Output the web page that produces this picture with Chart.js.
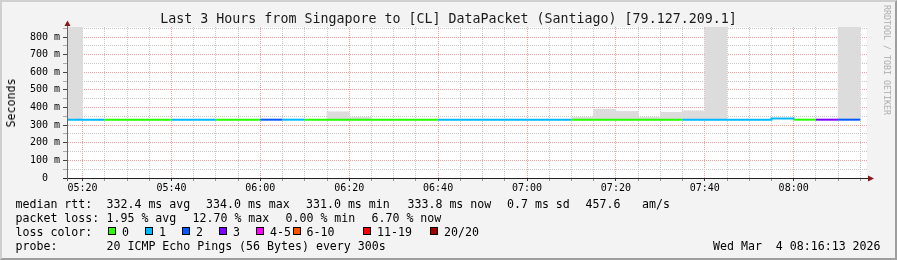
<!DOCTYPE html>
<html>
<head>
<meta charset="utf-8">
<script src="https://cdn.jsdelivr.net/npm/chart.js@4.4.1/dist/chart.umd.min.js"></script>
<style>
  body { margin: 0; background: #f3f3f3; }
  #wrap { position: relative; width: 897px; height: 260px; background: #f3f3f3; overflow: hidden;
          font-family: 'DejaVu Sans Mono', monospace; color: #000; }
  #chart { position: absolute; left: 0; top: 0; }
  .txt { position: absolute; white-space: pre; font-size: 11.6px; line-height: 14px; }
  #title { position: absolute; left: 0; top: 11px; width: 897px; text-align: center; white-space: pre;
           font-size: 13.3px; line-height: 16px; color: #1a1a1a; }
  #ylabel { position: absolute; left: 11px; top: 103px; white-space: pre; font-size: 11.6px;
            transform: translate(-50%, -50%) rotate(-90deg); }
  #mark { position: absolute; left: 887px; top: 60px; white-space: pre; font-size: 8.3px; color: #acacac;
          transform: translate(-50%, -50%) rotate(90deg); }
  .box { position: absolute; top: 227px; width: 6px; height: 6px; border: 1px solid #000; }
  #frame { position: absolute; left: 0; top: 0; width: 897px; height: 260px; box-sizing: border-box;
           border: 2px solid; border-color: #cfcfcf #9e9e9e #9e9e9e #cfcfcf; pointer-events: none; }
</style>
</head>
<body>
<div id="wrap">
  <canvas id="chart" width="897" height="260"></canvas>
  <div id="title">Last 3 Hours from Singapore to [CL] DataPacket (Santiago) [79.127.209.1]</div>
  <div id="ylabel">Seconds</div>
  <div id="mark">RRDTOOL / TOBI OETIKER</div>
  <div id="legend"></div>
  <div id="frame"></div>
</div>
<script>
// 5 minute slots, start time of each
const SLOT_START = [
  '05:15', '05:20', '05:25', '05:30', '05:35', '05:40', '05:45', '05:50', '05:55',
  '06:00', '06:05', '06:10', '06:15', '06:20', '06:25', '06:30', '06:35', '06:40',
  '06:45', '06:50', '06:55', '07:00', '07:05', '07:10', '07:15', '07:20', '07:25',
  '07:30', '07:35', '07:40', '07:45', '07:50', '07:55', '08:00', '08:05', '08:10'
];
// median rtt in ms
const MEDIAN_MS = [
  331, 331, 331, 331, 331, 331, 331, 331, 331,
  331, 331, 331, 331, 331, 331, 331, 331, 331,
  331, 331, 331, 331, 331, 331, 331, 331, 331,
  331, 331, 331, 331, 331, 337, 331, 331, 331
];
// index into LOSS_COLORS
const LOSS_INDEX = [
  1, 1, 0, 0, 0, 1, 1, 0, 0,
  2, 1, 0, 0, 0, 0, 0, 0, 1,
  1, 1, 1, 1, 1, 0, 0, 0, 0,
  0, 1, 1, 1, 1, 1, 0, 3, 2
];
// smoke (min / max ping of the slot), null = nothing visible
const SMOKE_LOW = [
  331, null, null, null, null, null, null, null, null,
  null, null, null, 331, 331, null, null, null, null,
  null, null, null, null, null, 331, 331, 331, 331,
  331, 331, 331, null, null, null, null, null, 331
];
const SMOKE_HIGH = [
  860, null, null, null, null, null, null, null, null,
  null, null, null, 376, 344, null, null, null, null,
  null, null, null, null, null, 344, 390, 378, 344,
  373, 382, 860, null, null, null, null, null, 860
];

const LOSS_LABELS = ['0', '1', '2', '3', '4-5', '6-10', '11-19', '20/20'];
const LOSS_COLORS = ['#26ff00', '#00b8ff', '#0059ff', '#7e00ff', '#ff00ff', '#ff5500', '#ff0000', '#a10000'];

const X_START = '05:16:30';
const X_END = '08:16:30';
const X_TICK_LABELS = ['05:20', '05:40', '06:00', '06:20', '06:40', '07:00', '07:20', '07:40', '08:00'];
const Y_MAX = 857;
const Y_TICK_VALUES = [0, 100, 200, 300, 400, 500, 600, 700, 800];
const Y_TICK_LABELS = ['0  ', '100 m', '200 m', '300 m', '400 m', '500 m', '600 m', '700 m', '800 m'];

const RTT_STATS = ['332.4 ms avg', '334.0 ms max', '331.0 ms min', '333.8 ms now', '0.7 ms sd', '457.6', 'am/s'];
const LOSS_STATS = ['1.95 % avg', '12.70 % max', '0.00 % min', '6.70 % now'];
const PROBE = '20 ICMP Echo Pings (56 Bytes) every 300s';
const STAMP = 'Wed Mar  4 08:16:13 2026';

// legend layout (px)
const RTT_X = [106.5, 206, 306, 407.5, 507, 585.5, 642];
const LOSS_X = [106.5, 192.5, 285.5, 371.5];
const BOX_X = [108, 145, 182, 219, 256, 292.5, 363, 430];
const ROW_TOP = [197, 211, 225, 239];

const GRID = '#c8c8c8';
const MGRID = 'rgba(232, 80, 80, 0.55)';
const ARROW = '#861a1a';

function toMin(t) {
  const p = t.split(':').map(Number);
  return p[0] * 60 + p[1] + (p[2] || 0) / 60;
}

const xMin = toMin(X_START);
const xMax = toMin(X_END);
const slotX = SLOT_START.map(toMin);
const xMajor = X_TICK_LABELS.map(toMin);

const xTicks = [];
for (let m = Math.ceil(xMin / 5) * 5; m <= xMax; m += 5) xTicks.push(m);
const yTicks = [];
for (let v = 0; v <= Y_MAX; v += 50) yTicks.push(v);

const medianPoints = slotX.map((x, i) => ({ x, y: MEDIAN_MS[i] }));
medianPoints.push({ x: slotX[slotX.length - 1] + 5, y: MEDIAN_MS[MEDIAN_MS.length - 1] });

const smokeBars = [];
slotX.forEach((x, i) => {
  if (SMOKE_HIGH[i] != null) smokeBars.push({ x: x + 2.5, y: [SMOKE_LOW[i], SMOKE_HIGH[i]] });
});

const frame = {
  id: 'frame',
  beforeDraw(chart) {
    const { ctx, chartArea: a } = chart;
    ctx.save();
    ctx.fillStyle = '#ffffff';
    ctx.fillRect(a.left, a.top, a.right - a.left, a.bottom - a.top);
    ctx.restore();
  },
  afterDraw(chart) {
    const { ctx, chartArea: a } = chart;
    ctx.save();
    ctx.lineWidth = 1;
    ctx.strokeStyle = '#222';
    ctx.beginPath();
    ctx.moveTo(a.left - 4, a.bottom + 0.5);
    ctx.lineTo(a.right + 1, a.bottom + 0.5);
    ctx.stroke();
    ctx.strokeStyle = '#666';
    ctx.beginPath();
    ctx.moveTo(a.left + 0.5, a.bottom + 3);
    ctx.lineTo(a.left + 0.5, a.top - 2);
    ctx.stroke();
    ctx.fillStyle = ARROW;
    ctx.beginPath();
    ctx.moveTo(a.left + 0.5, a.top - 6.5);
    ctx.lineTo(a.left + 3.5, a.top - 1);
    ctx.lineTo(a.left - 2.5, a.top - 1);
    ctx.closePath();
    ctx.fill();
    ctx.beginPath();
    ctx.moveTo(a.right + 7, a.bottom + 0.5);
    ctx.lineTo(a.right + 1, a.bottom - 2.5);
    ctx.lineTo(a.right + 1, a.bottom + 3.5);
    ctx.closePath();
    ctx.fill();
    ctx.restore();
  }
};

const tickFont = { family: "'DejaVu Sans Mono', monospace", size: 10 };

new Chart(document.getElementById('chart'), {
  data: {
    datasets: [
      {
        type: 'line',
        label: 'median rtt',
        order: 0,
        data: medianPoints,
        borderColor: LOSS_COLORS[0],
        borderWidth: 2,
        pointRadius: 0,
        stepped: true,
        clip: 0,
        segment: { borderColor: c => LOSS_COLORS[LOSS_INDEX[c.p0DataIndex]] }
      },
      {
        type: 'bar',
        label: 'smoke',
        order: 1,
        data: smokeBars,
        backgroundColor: '#dcdcdc',
        borderWidth: 0,
        barPercentage: 1,
        categoryPercentage: 1,
        clip: 0
      }
    ]
  },
  options: {
    responsive: false,
    animation: false,
    devicePixelRatio: 1,
    layout: { padding: { left: 0, top: 27, right: 30, bottom: 0 } },
    plugins: { legend: { display: false }, tooltip: { enabled: false }, title: { display: false } },
    scales: {
      x: {
        type: 'linear',
        min: xMin,
        max: xMax,
        offset: false,
        afterFit: s => { s.height = 82; },
        afterBuildTicks: s => { s.ticks = xTicks.map(v => ({ value: v })); },
        ticks: {
          autoSkip: false,
          maxRotation: 0,
          padding: 1,
          color: '#000',
          font: tickFont,
          callback: v => {
            const i = xMajor.indexOf(v);
            return i >= 0 ? X_TICK_LABELS[i] : '';
          }
        },
        grid: {
          offset: false,
          color: c => (c.tick && xMajor.includes(c.tick.value) ? MGRID : GRID),
          tickColor: c => (c.tick && xMajor.includes(c.tick.value) ? '#333' : '#999'),
          tickLength: 3,
          lineWidth: 1
        },
        border: { color: '#222', dash: [1, 1] }
      },
      y: {
        type: 'linear',
        min: 0,
        max: Y_MAX,
        afterFit: s => { s.width = 67; },
        afterBuildTicks: s => { s.ticks = yTicks.map(v => ({ value: v })); },
        ticks: {
          autoSkip: false,
          padding: 3,
          color: '#000',
          font: tickFont,
          callback: v => {
            const i = Y_TICK_VALUES.indexOf(v);
            return i >= 0 ? Y_TICK_LABELS[i] : '';
          }
        },
        grid: {
          color: c => (c.tick && c.tick.value % 100 === 0 ? MGRID : GRID),
          tickColor: c => (c.tick && c.tick.value % 100 === 0 ? '#444' : '#aaa'),
          tickLength: 4,
          lineWidth: 1
        },
        border: { color: '#666', dash: [1, 1] }
      }
    }
  },
  plugins: [frame]
});

// legend below the graph
const legend = document.getElementById('legend');

function addText(text, x, top) {
  const el = document.createElement('div');
  el.className = 'txt';
  el.textContent = text;
  el.style.left = x + 'px';
  el.style.top = top + 'px';
  legend.appendChild(el);
}

addText('median rtt:', 15.5, ROW_TOP[0]);
RTT_STATS.forEach((t, i) => addText(t, RTT_X[i], ROW_TOP[0]));
addText('packet loss:', 15.5, ROW_TOP[1]);
LOSS_STATS.forEach((t, i) => addText(t, LOSS_X[i], ROW_TOP[1]));
addText('loss color:', 15.5, ROW_TOP[2]);
LOSS_LABELS.forEach((t, i) => {
  const box = document.createElement('div');
  box.className = 'box';
  box.style.left = BOX_X[i] + 'px';
  box.style.background = LOSS_COLORS[i];
  legend.appendChild(box);
  addText(t, BOX_X[i] + 14, ROW_TOP[2]);
});
addText('probe:', 15.5, ROW_TOP[3]);
addText(PROBE, 106.5, ROW_TOP[3]);
addText(STAMP, 713, ROW_TOP[3]);
</script>
</body>
</html>
